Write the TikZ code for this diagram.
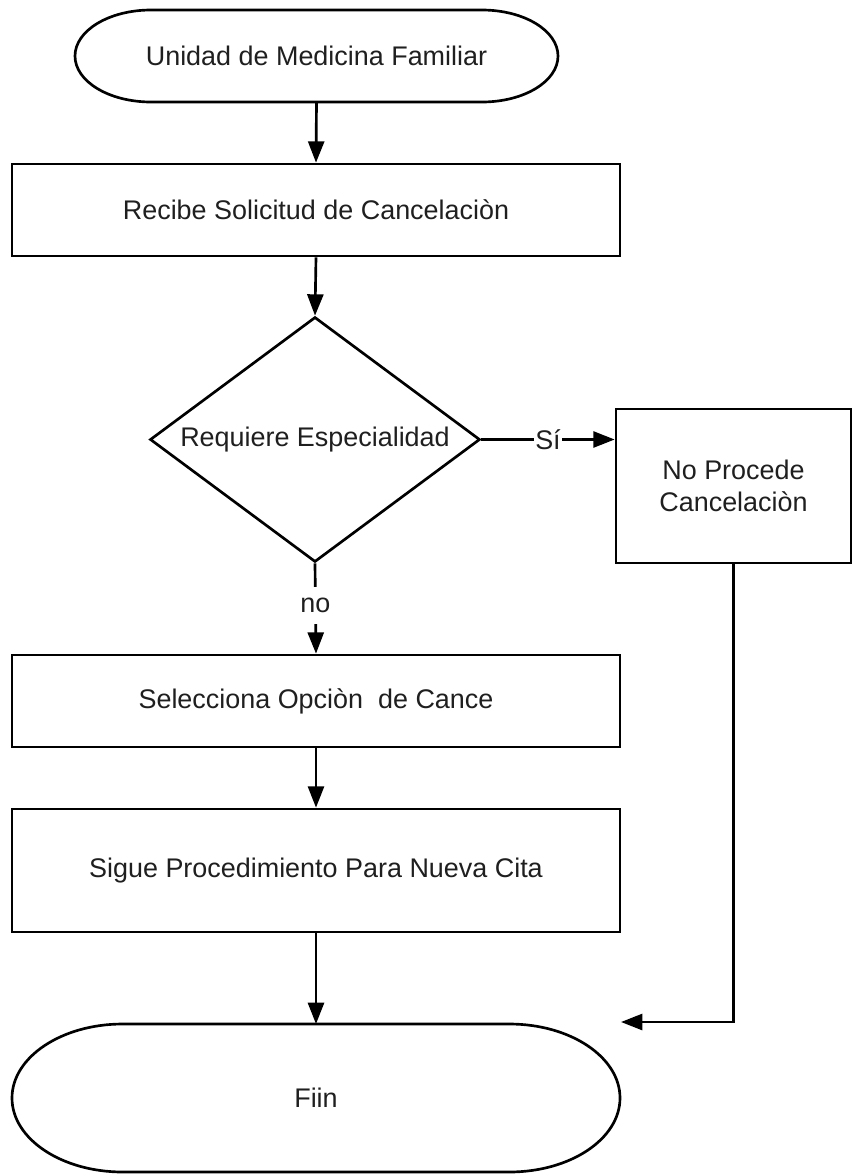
\documentclass[tikz,border=0pt]{standalone}
\usepackage{fontspec}
\setmainfont{Liberation Sans}
\usetikzlibrary{shapes.geometric,arrows.meta}

\begin{document}
\begin{tikzpicture}[
  x=0.75pt, y=-0.75pt,
  line width=2pt,
  every node/.style={font=\fontsize{20.2}{24}\selectfont, text=black!88},
  proc/.style={draw, rectangle, inner sep=0pt, minimum width=456pt, minimum height=69pt, align=center},
  term/.style={rectangle, inner sep=0pt, outer sep=0pt, align=center},
  decision/.style={draw, diamond, aspect=1.347, inner sep=0pt, minimum width=247.5pt, minimum height=183.75pt},
  lbl/.style={fill=white, inner xsep=1pt, inner ysep=0pt},
  flow/.style={-{Triangle[length=16pt,width=12pt]}}
]
% canvas
\useasboundingbox (0,0) rectangle (853,1175);

% nodes
\node[term, minimum width=362.25pt, minimum height=69pt] (ini) at (316.5,56) {Unidad de Medicina Familiar};
\node[proc] (rec) at (316,210) {Recibe Solicitud de Cancelaciòn};
\node[decision] (dec) at (315,439.5) {Requiere Especialidad};
\node[proc, minimum width=176.25pt, minimum height=115.5pt] (nop) at (733.5,486) {No Procede\\Cancelaciòn};
\node[proc] (sel) at (316,701) {Selecciona Opciòn\ \ de Cance};
\node[proc, minimum height=92.25pt] (sig) at (316,870.5) {Sigue Procedimiento Para Nueva Cita};
\node[term, minimum width=456pt, minimum height=111pt] (fin) at (316,1098) {Fiin};
\coordinate (tip) at (621,1022);

% terminator outlines: straight top and bottom, elliptical ends
\draw ([xshift=57pt]ini.north west) -- ([xshift=-57pt]ini.north east)
  arc[start angle=90, end angle=-90, x radius=57pt, y radius=34.5pt]
  -- ([xshift=57pt]ini.south west)
  arc[start angle=270, end angle=90, x radius=57pt, y radius=34.5pt] -- cycle;
\draw ([xshift=83pt]fin.north west) -- ([xshift=-83pt]fin.north east)
  arc[start angle=90, end angle=-90, x radius=83pt, y radius=55.5pt]
  -- ([xshift=83pt]fin.south west)
  arc[start angle=270, end angle=90, x radius=83pt, y radius=55.5pt] -- cycle;

% connectors
\draw[flow] (ini.south) -- (rec.north);
\draw[flow] (rec.south) -- (dec.north);
\draw[flow] (dec.east) -- node[lbl]{Sí} (dec.east -| nop.west);
\draw[flow] (dec.south) -- node[lbl, minimum height=28pt, pos=0.47]{no} (sel.north);
\draw[flow] (sel.south) -- (sig.north);
\draw[flow] (sig.south) -- (fin.north);
\draw[flow] (nop.south) |- (tip);
\end{tikzpicture}
\end{document}
